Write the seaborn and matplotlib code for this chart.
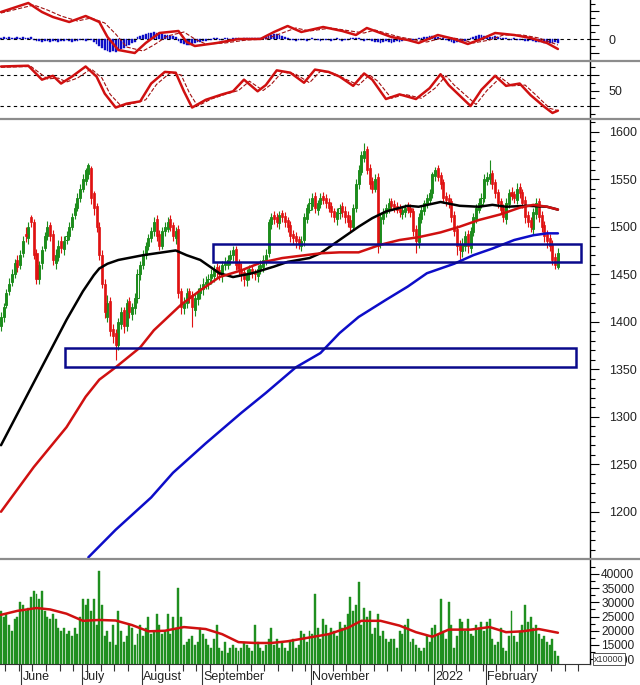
import matplotlib
matplotlib.use("Agg")
import matplotlib.pyplot as plt
import numpy as np
import pandas as pd
import seaborn as sns
from matplotlib.lines import Line2D
from matplotlib.patches import Rectangle
from matplotlib.ticker import MultipleLocator, FixedLocator
from matplotlib.transforms import blended_transform_factory

# ---- daily candles ----
opens = [1395, 1405, 1418, 1432, 1442, 1450, 1465, 1460, 1472, 1492,
         1488, 1510, 1505, 1472, 1445, 1462, 1478, 1490, 1502, 1492,
         1462, 1468, 1485, 1476, 1486, 1490, 1500, 1512, 1520, 1530,
         1540, 1548, 1555, 1562, 1535, 1522, 1500, 1470, 1440, 1405,
         1422, 1392, 1388, 1376, 1398, 1412, 1395, 1422, 1408, 1414,
         1425, 1450, 1460, 1470, 1480, 1488, 1495, 1508, 1492, 1480,
         1495, 1498, 1508, 1502, 1488, 1498, 1432, 1414, 1420, 1432,
         1428, 1412, 1424, 1430, 1434, 1440, 1440, 1446, 1448, 1458,
         1454, 1448, 1460, 1460, 1466, 1470, 1476, 1462, 1456, 1452,
         1444, 1450, 1456, 1452, 1448, 1455, 1458, 1465, 1472, 1503,
         1512, 1510, 1504, 1514, 1511, 1507, 1502, 1492, 1490, 1487,
         1480, 1486, 1508, 1518, 1522, 1532, 1518, 1524, 1532, 1530,
         1526, 1522, 1516, 1508, 1514, 1522, 1517, 1512, 1507, 1500,
         1520, 1545, 1558, 1572, 1582, 1562, 1548, 1540, 1552, 1482,
         1508, 1514, 1518, 1527, 1524, 1522, 1520, 1513, 1515, 1522,
         1520, 1517, 1498, 1484, 1508, 1516, 1524, 1528, 1535, 1553,
         1562, 1554, 1547, 1532, 1530, 1527, 1512, 1498, 1482, 1474,
         1480, 1492, 1478, 1494, 1508, 1518, 1524, 1530, 1548, 1550,
         1556, 1547, 1537, 1527, 1520, 1508, 1524, 1537, 1534, 1528,
         1542, 1537, 1528, 1512, 1507, 1498, 1513, 1527, 1512, 1502,
         1492, 1488, 1482, 1468, 1458]
highs = [1410, 1420, 1434, 1446, 1455, 1466, 1470, 1475, 1490, 1500,
         1505, 1512, 1508, 1476, 1464, 1480, 1494, 1506, 1505, 1496,
         1476, 1486, 1490, 1490, 1495, 1505, 1514, 1525, 1535, 1545,
         1555, 1562, 1567, 1564, 1538, 1525, 1505, 1475, 1445, 1428,
         1426, 1398, 1392, 1404, 1415, 1416, 1424, 1426, 1420, 1430,
         1455, 1464, 1475, 1484, 1492, 1500, 1510, 1512, 1496, 1500,
         1505, 1510, 1512, 1505, 1500, 1502, 1436, 1426, 1436, 1436,
         1432, 1430, 1436, 1440, 1446, 1448, 1450, 1455, 1460, 1462,
         1460, 1464, 1468, 1470, 1475, 1480, 1480, 1466, 1462, 1456,
         1455, 1460, 1460, 1456, 1460, 1465, 1470, 1476, 1508, 1514,
         1516, 1514, 1516, 1518, 1515, 1510, 1506, 1496, 1494, 1490,
         1490, 1514, 1524, 1530, 1535, 1536, 1528, 1535, 1536, 1534,
         1530, 1526, 1520, 1520, 1524, 1526, 1522, 1516, 1512, 1524,
         1550, 1565, 1580, 1588, 1585, 1566, 1552, 1555, 1556, 1514,
         1520, 1524, 1530, 1530, 1528, 1526, 1524, 1522, 1524, 1526,
         1524, 1520, 1502, 1514, 1522, 1528, 1534, 1540, 1558, 1563,
         1565, 1558, 1550, 1536, 1534, 1530, 1516, 1502, 1486, 1488,
         1495, 1496, 1500, 1514, 1524, 1530, 1535, 1555, 1558, 1570,
         1560, 1550, 1540, 1530, 1524, 1530, 1540, 1542, 1538, 1546,
         1546, 1540, 1532, 1516, 1510, 1520, 1530, 1530, 1516, 1506,
         1496, 1492, 1486, 1472, 1478]
lows = [1390, 1400, 1414, 1428, 1438, 1446, 1452, 1456, 1468, 1484,
        1482, 1500, 1466, 1440, 1440, 1456, 1474, 1486, 1485, 1460,
        1456, 1464, 1472, 1470, 1482, 1486, 1496, 1508, 1516, 1526,
        1536, 1544, 1550, 1524, 1512, 1494, 1465, 1435, 1404, 1400,
        1385, 1378, 1360, 1370, 1392, 1388, 1390, 1404, 1402, 1408,
        1420, 1444, 1455, 1466, 1475, 1484, 1490, 1485, 1475, 1476,
        1490, 1494, 1495, 1485, 1482, 1425, 1408, 1408, 1414, 1420,
        1394, 1406, 1418, 1424, 1428, 1434, 1434, 1440, 1442, 1446,
        1444, 1442, 1454, 1455, 1460, 1464, 1454, 1448, 1443, 1438,
        1438, 1444, 1446, 1444, 1442, 1450, 1452, 1460, 1468, 1498,
        1503, 1500, 1498, 1505, 1500, 1494, 1484, 1482, 1478, 1476,
        1474, 1480, 1504, 1514, 1518, 1514, 1512, 1520, 1524, 1520,
        1515, 1510, 1505, 1502, 1508, 1510, 1504, 1500, 1495, 1496,
        1515, 1540, 1554, 1568, 1555, 1540, 1535, 1536, 1472, 1478,
        1503, 1510, 1514, 1518, 1515, 1514, 1510, 1508, 1510, 1514,
        1510, 1490, 1472, 1478, 1504, 1512, 1520, 1524, 1530, 1548,
        1548, 1540, 1525, 1522, 1520, 1505, 1490, 1470, 1465, 1468,
        1474, 1472, 1472, 1490, 1504, 1514, 1520, 1526, 1544, 1545,
        1540, 1530, 1520, 1514, 1505, 1503, 1520, 1528, 1525, 1524,
        1530, 1520, 1504, 1500, 1494, 1492, 1508, 1505, 1494, 1484,
        1478, 1474, 1460, 1455, 1456]
closes = [1405, 1415, 1430, 1440, 1450, 1462, 1458, 1470, 1485, 1490,
          1500, 1505, 1470, 1445, 1460, 1475, 1490, 1500, 1490, 1465,
          1470, 1480, 1478, 1485, 1490, 1500, 1510, 1520, 1530, 1540,
          1550, 1560, 1565, 1530, 1520, 1500, 1470, 1440, 1410, 1420,
          1390, 1385, 1375, 1400, 1410, 1395, 1420, 1410, 1415, 1425,
          1450, 1460, 1470, 1480, 1488, 1495, 1505, 1490, 1480, 1495,
          1500, 1505, 1500, 1490, 1495, 1430, 1415, 1420, 1430, 1425,
          1415, 1425, 1430, 1435, 1440, 1442, 1445, 1450, 1455, 1452,
          1450, 1460, 1462, 1465, 1470, 1475, 1460, 1455, 1450, 1445,
          1450, 1455, 1452, 1450, 1455, 1460, 1465, 1470, 1505, 1510,
          1508, 1505, 1512, 1510, 1505, 1500, 1490, 1488, 1485, 1482,
          1485, 1510, 1520, 1525, 1530, 1520, 1525, 1530, 1528, 1525,
          1520, 1515, 1510, 1515, 1520, 1515, 1510, 1505, 1500, 1520,
          1545, 1560, 1575, 1580, 1560, 1545, 1540, 1550, 1480, 1510,
          1515, 1520, 1525, 1522, 1520, 1518, 1515, 1518, 1520, 1518,
          1515, 1495, 1485, 1510, 1518, 1525, 1530, 1535, 1555, 1560,
          1552, 1545, 1530, 1528, 1525, 1510, 1495, 1480, 1475, 1482,
          1490, 1480, 1495, 1510, 1520, 1525, 1530, 1550, 1552, 1555,
          1545, 1535, 1525, 1518, 1510, 1525, 1535, 1532, 1530, 1540,
          1535, 1525, 1510, 1505, 1500, 1515, 1525, 1510, 1500, 1490,
          1485, 1480, 1465, 1460, 1472]
volume = [27000, 25000, 26000, 22000, 20000, 24000, 25000, 30000, 29000, 27000,
          28000, 32000, 34000, 33000, 31000, 34000, 27000, 25000, 24000, 26000,
          24000, 21000, 20000, 21000, 19000, 20000, 18000, 21000, 19000, 25000,
          31000, 29000, 31000, 27000, 31000, 22000, 41000, 29000, 18000, 20000,
          16000, 22000, 15000, 27000, 20000, 16000, 18000, 22000, 21000, 15000,
          19000, 22000, 18000, 21000, 25000, 19000, 20000, 26000, 22000, 19000,
          20000, 26000, 19000, 25000, 21000, 35000, 25000, 15000, 16000, 17000,
          18000, 15000, 16000, 21000, 19000, 17000, 15000, 14000, 17000, 22000,
          14000, 13000, 16000, 12000, 14000, 15000, 14000, 13000, 14000, 16000,
          15000, 14000, 13000, 22000, 16000, 14000, 13000, 15000, 17000, 21000,
          15000, 17000, 14000, 16000, 14000, 13000, 16000, 17000, 14000, 15000,
          20000, 19000, 16000, 20000, 19000, 33000, 21000, 17000, 24000, 22000,
          19000, 21000, 20000, 18000, 23000, 21000, 22000, 26000, 32000, 27000,
          29000, 37000, 22000, 28000, 25000, 27000, 19000, 21000, 26000, 18000,
          20000, 17000, 16000, 17000, 17000, 14000, 20000, 19000, 22000, 24000,
          16000, 17000, 15000, 14000, 13000, 14000, 18000, 16000, 21000, 22000,
          19000, 31000, 20000, 17000, 30000, 22000, 14000, 18000, 24000, 23000,
          20000, 24000, 19000, 18000, 22000, 21000, 23000, 20000, 23000, 24000,
          17000, 15000, 16000, 21000, 14000, 13000, 18000, 27000, 18000, 16000,
          20000, 22000, 29000, 23000, 25000, 21000, 22000, 19000, 17000, 18000,
          16000, 15000, 17000, 13000, 11000]

# ---- moving averages on the price panel (bar index, value) ----
ma_black_bars = [0, 12, 22, 24, 30, 34, 36, 39, 43, 52, 64, 68, 73, 80, 85, 92, 100,
                 105, 113, 117, 124, 131, 136, 141, 149, 153, 161, 168, 175, 180,
                 185, 193, 200, 204]
ma_black = [1270, 1336, 1391, 1402, 1432, 1449, 1456, 1461, 1465, 1470, 1475, 1470,
            1465, 1451, 1447, 1451, 1458, 1463, 1467, 1472, 1486, 1500, 1509, 1516,
            1522, 1521, 1526, 1522, 1521, 1523, 1521, 1522, 1521, 1518]
ma_red_bars = [0, 12, 24, 31, 36, 42, 51, 56, 66, 73, 80, 88, 95, 103, 117, 124,
               131, 139, 146, 153, 161, 168, 175, 183, 190, 195, 200, 204]
ma_red = [1200, 1247, 1289, 1321, 1339, 1352, 1373, 1391, 1418, 1433, 1447, 1454,
          1462, 1467, 1472, 1473, 1473, 1481, 1486, 1489, 1494, 1500, 1507, 1513,
          1520, 1523, 1521, 1518]
ma_blue_bars = [32, 42, 55, 63, 75, 88, 97, 108, 117, 124, 131, 141, 149, 156, 166,
                173, 180, 188, 195, 200, 204]
ma_blue = [1152, 1181, 1215, 1241, 1272, 1304, 1325, 1352, 1367, 1388, 1405, 1423,
           1437, 1451, 1461, 1470, 1477, 1486, 1491, 1493, 1493]

# support zones: start bar, end bar, low, high
zones = [(77.7, 212.5, 1463, 1482), (23.4, 210.6, 1352, 1372)]

# ---- MACD panel ----
macd_bars = [0, 10, 15, 19, 25, 31, 36, 39, 43, 49, 53, 58, 65, 68, 71, 79, 87, 95,
             100, 105, 110, 118, 125, 130, 134, 139, 143, 149, 153, 160, 166, 171,
             176, 181, 188, 194, 200, 204]
macd = [27, 36, 27, 22, 17, 23, 17, 2, -11, -14, -4, 6, 8, -3, -7, -4, 0, 0, 7, 13,
        7, 12, 8, 4, 11, 6, 2, -1, -4, 4, 0, -5, 0, 6, 4, 1, -4, -10]
signal_bars = [0, 12, 17, 22, 28, 33, 38, 42, 46, 52, 56, 61, 67, 71, 75, 82, 90, 97,
               103, 108, 113, 121, 128, 133, 137, 142, 146, 152, 156, 163, 168, 173,
               179, 184, 191, 197, 204]
signal = [26, 34, 29, 23, 18, 21, 16, 5, -8, -12, -6, 3, 7, 0, -5, -4, -1, 0, 6, 11,
          8, 11, 8, 6, 9, 5, 2, -1, -3, 2, 0, -4, -1, 4, 4, 1, -6]
hist = [1, 2, 1, 2, 1, 1, 2, 1, 2, 1,
        1, 2, -1, -2, -2, -3, -2, -2, -3, -2,
        -2, -3, -2, -2, -1, -2, -3, -2, -2, -1,
        -1, -2, -1, -1, -3, -5, -7, -9, -11, -12,
        -13, -12, -13, -11, -10, -9, -7, -6, -4, -3,
        2, 3, 4, 5, 6, 6, 7, 6, 5, 5,
        4, 4, 3, 3, 2, -2, -4, -5, -6, -6,
        -5, -4, -3, -3, -2, -2, -1, -1, 1, 1,
        -1, -1, 1, 1, -1, 1, 1, 1, -1, 1,
        1, 1, 1, 1, 1, 1, 1, 2, 3, 4,
        5, 5, 4, 3, 2, 1, -1, -1, -2, -1,
        -1, -1, -2, -1, 1, -1, -1, -2, -1, -1,
        -1, -2, -1, 1, -1, -2, -1, -1, 1, 1,
        1, 1, -1, -2, -1, -1, -2, -3, -3, -4,
        -3, -2, -3, -4, -3, -2, -3, -2, -1, -1,
        -2, -1, -1, 1, 1, 2, 2, 3, 3, 2,
        2, 1, 1, -1, -2, -3, -4, -3, -3, -2,
        -2, -1, 1, 2, 3, 4, 4, 3, 3, 2,
        2, 3, 2, 1, 1, 1, -1, -1, 1, -1,
        -1, -1, -2, -2, -1, -2, -3, -3, -3, -4,
        -3, -4, -4, -3, -4]

# ---- RSI panel ----
rsi_bars = [0, 10, 15, 19, 22, 26, 31, 35, 38, 42, 46, 51, 55, 60, 64, 67, 70, 75,
            81, 85, 89, 94, 97, 101, 106, 111, 115, 120, 124, 129, 133, 136, 141,
            146, 152, 157, 161, 164, 172, 176, 181, 185, 190, 194, 199, 202, 204]
rsi = [81, 82, 64, 69, 59, 68, 81, 68, 46, 28, 33, 36, 59, 74, 73, 49, 28, 38, 45,
       49, 64, 49, 57, 76, 73, 60, 77, 74, 68, 56, 72, 64, 39, 45, 39, 53, 71, 57,
       30, 51, 69, 56, 59, 44, 29, 21, 24]
rsi_sig_bars = [0, 11, 17, 21, 24, 28, 33, 37, 40, 44, 48, 53, 57, 62, 66, 69, 72,
                77, 83, 87, 91, 96, 99, 103, 108, 113, 117, 122, 126, 131, 135, 138,
                143, 148, 154, 159, 163, 166, 174, 178, 183, 187, 192, 196, 201, 204]
rsi_sig = [80, 81, 65, 66, 61, 66, 78, 66, 45, 30, 33, 38, 58, 73, 70, 47, 30, 39,
           46, 50, 62, 50, 58, 74, 71, 60, 75, 72, 65, 57, 70, 62, 40, 45, 40, 53,
           69, 57, 32, 50, 67, 56, 57, 44, 27, 24]

# ---- volume moving average ----
vol_ma_bars = [0, 6, 13, 18, 24, 30, 36, 42, 48, 54, 60, 67, 75, 81, 87, 93, 99, 105,
               111, 120, 127, 132, 139, 146, 152, 158, 164, 172, 179, 185, 191, 197, 204]
vol_ma = [25600, 27000, 28000, 27500, 26000, 23500, 23800, 23600, 22000, 19800, 20000,
          21300, 20600, 18800, 16000, 15700, 15700, 16300, 17300, 18800, 21000, 23500,
          23500, 21800, 19500, 17900, 20400, 20400, 21300, 19500, 19800, 20600, 19300]

month_labels = ["June", "July", "August", "September", "November", "2022", "February"]
month_start_bars = [8, 30, 52, 74, 114, 159, 178]

GREEN = "#1c8c1c"
RED = "#e01212"
LINE_RED = "#d01010"
BLUE = "#0d0dc8"
NAVY = "#0a0a8c"

sns.set_theme(style="white")
plt.rcParams["font.family"] = ["Liberation Sans", "DejaVu Sans"]

W, H = 640, 685
fig = plt.figure(figsize=(W / 100, H / 100), dpi=100)
fig.patch.set_facecolor("white")


def panel(top, bottom):
    return fig.add_axes([0, 1 - bottom / H, 590 / W, (bottom - top) / H])


ax_macd = panel(0, 60)
ax_rsi = panel(62, 118)
ax_main = panel(120, 558)
ax_vol = panel(560, 664)

df = pd.DataFrame({"open": opens, "high": highs, "low": lows, "close": closes,
                   "volume": volume})
df["bar"] = np.arange(len(df))
up = df["close"] >= df["open"]

for ax in (ax_macd, ax_rsi, ax_main, ax_vol):
    ax.set_facecolor("white")
    ax.set_xlim(-1 / 2.73, 589 / 2.73)
    for s in ("left", "top", "bottom"):
        ax.spines[s].set_visible(False)
    ax.spines["right"].set_color("black")
    ax.spines["right"].set_linewidth(1.0)
    ax.yaxis.tick_right()
    ax.tick_params(axis="y", which="both", direction="out", colors="black",
                   labelcolor="#222222", labelsize=9, pad=7, width=0.8)
    ax.tick_params(axis="y", which="major", length=6.5)
    ax.tick_params(axis="y", which="minor", length=3.3)
    ax.set_xticks([])
    ax.grid(False)

# ---- candles ----
ax_main.vlines(df["bar"][up], df["low"][up], df["high"][up], color=GREEN, lw=0.8)
ax_main.vlines(df["bar"][~up], df["low"][~up], df["high"][~up], color=RED, lw=0.8)
body = (df["close"] - df["open"]).abs().clip(lower=0.8)
bottom = df[["open", "close"]].min(axis=1)
ax_main.bar(df["bar"][up], body[up], bottom=bottom[up], width=0.75,
            facecolor="white", edgecolor=GREEN, linewidth=0.7)
ax_main.bar(df["bar"][~up], body[~up], bottom=bottom[~up], width=0.75,
            facecolor=RED, edgecolor=RED, linewidth=0.5)

sns.lineplot(x=ma_black_bars, y=ma_black, ax=ax_main, color="black", lw=1.8)
sns.lineplot(x=ma_red_bars, y=ma_red, ax=ax_main, color=LINE_RED, lw=1.8)
sns.lineplot(x=ma_blue_bars, y=ma_blue, ax=ax_main, color=BLUE, lw=1.8)

for x0, x1, lo, hi in zones:
    ax_main.add_patch(Rectangle((x0, lo), x1 - x0, hi - lo, fill=False,
                                edgecolor=NAVY, lw=1.8, zorder=5))

ax_main.set_ylim(1151.3, 1612.3)
ax_main.yaxis.set_major_locator(FixedLocator(np.arange(1200, 1601, 50)))
ax_main.yaxis.set_minor_locator(MultipleLocator(10))

# ---- MACD ----
ax_macd.bar(np.arange(len(hist)), hist, width=0.65, color=BLUE, edgecolor=BLUE,
            linewidth=0.3)
ax_macd.axhline(0, color="black", lw=0.8, ls=(0, (3, 3)))
sns.lineplot(x=signal_bars, y=signal, ax=ax_macd, color="#a01010", lw=0.8,
             linestyle="--")
sns.lineplot(x=macd_bars, y=macd, ax=ax_macd, color=LINE_RED, lw=1.8)
ax_macd.set_ylim(-21, 39)
ax_macd.set_yticks([-14, 0, 14, 28])
ax_macd.set_yticklabels(["", "0", "", ""])
ax_macd.yaxis.set_minor_locator(MultipleLocator(7))

# ---- RSI ----
for lvl in (70, 30):
    ax_rsi.axhline(lvl, color="black", lw=0.8, ls=(0, (3, 3)))
sns.lineplot(x=rsi_sig_bars, y=rsi_sig, ax=ax_rsi, color="#a01010", lw=0.8,
             linestyle="--")
sns.lineplot(x=rsi_bars, y=rsi, ax=ax_rsi, color=LINE_RED, lw=1.8)
ax_rsi.set_ylim(14.5, 86.8)
ax_rsi.set_yticks([30, 50, 70])
ax_rsi.set_yticklabels(["", "50", ""])
ax_rsi.yaxis.set_minor_locator(MultipleLocator(10))

# ---- volume ----
ax_vol.bar(df["bar"], df["volume"], width=0.72, color="#1f8f1f",
           edgecolor="#1f8f1f", linewidth=0.3)
sns.lineplot(x=vol_ma_bars, y=vol_ma, ax=ax_vol, color=LINE_RED, lw=1.8)
ax_vol.set_ylim(8300, 44900)
ax_vol.yaxis.set_major_locator(FixedLocator(np.arange(10000, 40001, 5000)))
ax_vol.yaxis.set_minor_locator(MultipleLocator(2500))
ax_vol.tick_params(axis="y", which="both", pad=1.5, labelsize=8.6)
ax_vol.spines["bottom"].set_visible(True)
ax_vol.spines["bottom"].set_color("#333333")
ax_vol.spines["bottom"].set_linewidth(0.8)
month_ticks = np.array(month_start_bars) - 0.5
ax_vol.set_xticks(month_ticks)
ax_vol.set_xticklabels([])
ax_vol.xaxis.set_minor_locator(FixedLocator(np.arange(2, 216, 5) - 0.5))
ax_vol.tick_params(axis="x", which="major", direction="out", length=15, width=0.8,
                   color="#333333", bottom=True)
ax_vol.tick_params(axis="x", which="minor", direction="out", length=5, width=0.8,
                   color="#333333", bottom=True)
trans = blended_transform_factory(ax_vol.transData, ax_vol.transAxes)
for lab, xb in zip(month_labels, month_ticks):
    ax_vol.text(xb + 0.6, -0.125, lab, transform=trans, ha="left", va="center",
                fontsize=9, color="#222222")

fig.text(594 / W, 1 - 659 / H, "x10000", fontsize=6.5, color="#333333",
         ha="left", va="center",
         bbox=dict(boxstyle="square,pad=0.15", facecolor="white",
                   edgecolor="#555555", lw=0.7))

# panel separators
for ysep in (61, 119, 559):
    fig.add_artist(Line2D([0, 1], [1 - ysep / H] * 2, transform=fig.transFigure,
                          color="#8c8c8c", lw=1.6))

fig.savefig("out.png", dpi=100)
